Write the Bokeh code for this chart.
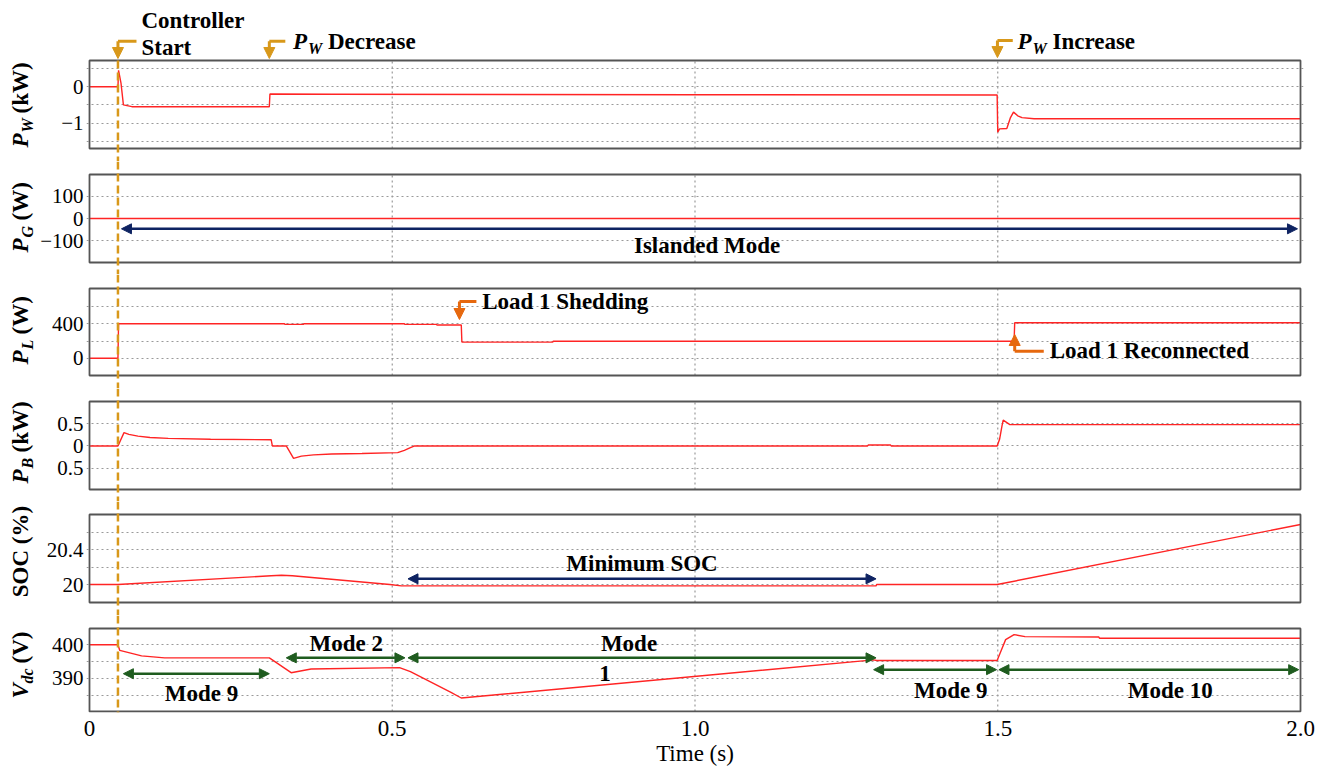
import math
from bokeh.plotting import figure
from bokeh.layouts import column, row
from bokeh.models import Range1d, FixedTicker, Label, Arrow, NormalHead, Span
from bokeh.core.properties import value
from bokeh.embed import file_html
from bokeh.resources import INLINE

# ---------------- data ----------------
t_ctrl = 0.047

t_pw = [0.0, 0.047, 0.048, 0.052, 0.056, 0.070, 0.297, 0.298, 0.40, 1.00, 1.499, 1.500, 1.503, 1.515, 1.521, 1.526, 1.533, 1.540, 1.560, 2.0]
pw = [0.0, 0.0, 0.45, 0.10, -0.50, -0.55, -0.55, -0.20, -0.21, -0.22, -0.23, -1.25, -1.16, -1.15, -0.85, -0.70, -0.80, -0.85, -0.88, -0.88]

t_pg = [0.0, 2.0]
pg = [0.0, 0.0]

t_pl = [0.0, 0.047, 0.048, 0.322, 0.323, 0.353, 0.354, 0.520, 0.521, 0.573, 0.574, 0.614, 0.615, 0.765, 0.766, 1.527, 1.528, 2.0]
pl = [0, 0, 400, 400, 393, 393, 400, 400, 393, 393, 386, 386, 188, 188, 197, 197, 412, 412]

t_pb = [0.0, 0.047, 0.057, 0.065, 0.080, 0.100, 0.130, 0.200, 0.300, 0.302, 0.325, 0.337, 0.350, 0.370, 0.400, 0.450, 0.509, 0.520, 0.530, 0.537, 1.285, 1.286, 1.323, 1.324, 1.499, 1.503, 1.507, 1.509, 1.520, 2.0]
pb = [0.0, 0.0, 0.30, 0.26, 0.22, 0.19, 0.17, 0.15, 0.14, 0.0, 0.0, -0.28, -0.23, -0.20, -0.18, -0.17, -0.15, -0.10, -0.04, 0.0, 0.0, 0.02, 0.02, 0.0, 0.0, 0.15, 0.45, 0.58, 0.48, 0.48]

t_soc = [0.0, 0.047, 0.30, 0.317, 0.335, 0.496, 0.515, 1.299, 1.300, 1.499, 2.0]
soc = [20.0, 20.0, 20.10, 20.107, 20.10, 20.0, 19.985, 19.985, 20.0, 20.0, 20.686]

t_vdc = [0.0, 0.047, 0.050, 0.086, 0.124, 0.297, 0.333, 0.366, 0.512, 0.530, 0.597, 0.614, 1.295, 1.300, 1.499, 1.505, 1.513, 1.527, 1.545, 1.667, 1.668, 2.0]
vdc = [400.0, 400.0, 398.3, 396.7, 396.1, 396.1, 391.7, 392.8, 393.2, 392.0, 385.9, 384.2, 395.5, 395.3, 395.3, 398.0, 401.5, 403.0, 402.4, 402.3, 401.9, 401.9]

x_ticks = [0.0, 0.5, 1.0, 1.5, 2.0]
x_tick_labels = ["0", "0.5", "1.0", "1.5", "2.0"]
x_vgrid = [0.5, 1.0, 1.5]

# ---------------- style / layout ----------------
FONT = "Liberation Serif"
RED = "#FF2424"
GRID = "#9a9a9a"
GOLD = "#D8981A"
ORANGE = "#E6680E"
NAVY = "#0E2362"
GREEN = "#1F5C1F"
BOX = "#555555"
TICK_FS = "21px"

W_TOTAL = 1328
LABEL_W = 37
W = W_TOTAL - LABEL_W
CANVAS_H = 769
X_LEFT_PX, X_RIGHT_PX = 88, 1300
PAD = 3
x_start, x_end = 0.0, 2.0
xscale = (X_RIGHT_PX - X_LEFT_PX) / (x_end - x_start)
xr = Range1d(x_start - PAD / xscale, x_end + PAD / xscale)
FRAME_LEFT = X_LEFT_PX - PAD

frame_top = [0, 161, 274, 388, 501, 615]
frame_bot = [161, 274, 388, 501, 615, 712]
box_top = [60, 174, 288, 401, 514, 628]
box_bot = [148, 262, 375, 489, 602, 711]

lims = [(-1.7, 0.72), (-196.0, 196.0), (-200.0, 810.0), (-0.98, 1.0), (19.795, 20.8), (380.2, 404.8)]
grid_ticks = [[0.5, 0.0, -0.5, -1.0, -1.5], [100, 0, -100], [0, 200, 400, 600],
              [0.5, 0.0, -0.5], [20.0, 20.2, 20.4, 20.6], [385, 390, 395, 400]]
label_ticks = [[0.0, -1.0], [100, 0, -100], [0, 400], [0.5, 0.0, -0.5], [20.0, 20.4], [390, 400]]
label_text = [["0", "\u22121"], ["100", "0", "\u2212100"], ["0", "400"], ["0.5", "0", "0.5"],
              ["20", "20.4"], ["390", "400"]]

series = [(t_pw, pw), (t_pg, pg), (t_pl, pl), (t_pb, pb), (t_soc, soc), (t_vdc, vdc)]

# y-axis titles: (main, subscript, unit, canvas-y where text starts, subscript width)
ytitles = [("P", "W", "(kW)", 147, 14), ("P", "G", "(W)", 252, 12), ("P", "L", "(W)", 364, 10),
           ("P", "B", "(kW)", 483, 11), ("SOC (%)", None, None, 551, 0), ("V", "dc", "(V)", 698, 15)]


def txt(p, x, y, text, size=23, style="bold", align="center", baseline="middle", xo=0, yo=0):
    p.add_layout(Label(x=x, y=y, text=text, text_font=FONT, text_font_style=style,
                       text_font_size=f"{size}px", text_align=align, text_baseline=baseline,
                       x_offset=xo, y_offset=yo, text_color="black"))


def l_arrow(p, x_bar, x_corner, y_bar, y_tip, color):
    p.segment(x0=[x_bar], y0=[y_bar], x1=[x_corner], y1=[y_bar], line_color=color, line_width=3)
    p.add_layout(Arrow(end=NormalHead(size=11, fill_color=color, line_color=color),
                       x_start=x_corner, y_start=y_bar, x_end=x_corner, y_end=y_tip,
                       line_color=color, line_width=3))


def d_arrow(p, x0, x1, y, color):
    p.add_layout(Arrow(start=NormalHead(size=10, fill_color=color, line_color=color),
                       end=NormalHead(size=10, fill_color=color, line_color=color),
                       x_start=x0, y_start=y, x_end=x1, y_end=y, line_color=color, line_width=2.5))


# ---------------- left strip holding the rotated axis titles ----------------
lab = figure(width=LABEL_W, height=CANVAS_H, x_range=Range1d(0, LABEL_W),
             y_range=Range1d(CANVAS_H, 0), output_backend="svg", toolbar_location=None,
             title=None, x_axis_location=None, y_axis_location=None,
             min_border_left=0, min_border_right=0, min_border_top=0, min_border_bottom=0)
lab.outline_line_color = None
lab.xgrid.visible = False
lab.ygrid.visible = False
lab.background_fill_color = "white"
lab.border_fill_color = "white"
MAIN_X, SUB_X = 20, 27
for main, sub, unit, y0, sub_w in ytitles:
    if sub is None:
        lab.text(x=[MAIN_X], y=[y0], text=[main], angle=math.pi / 2, text_align="center",
                 text_baseline="middle", text_font=value(FONT), text_font_style="bold",
                 text_font_size="23px", text_color="black")
    else:
        lab.text(x=[MAIN_X], y=[y0], text=[main], angle=math.pi / 2, text_align="left",
                 text_baseline="middle", text_font=value(FONT), text_font_style="bold italic",
                 text_font_size="23px", text_color="black")
        lab.text(x=[SUB_X], y=[y0 - 15], text=[sub], angle=math.pi / 2, text_align="left",
                 text_baseline="middle", text_font=value(FONT), text_font_style="bold italic",
                 text_font_size="16px", text_color="black")
        lab.text(x=[MAIN_X], y=[y0 - 15 - sub_w - 5], text=[unit], angle=math.pi / 2,
                 text_align="left", text_baseline="middle", text_font=value(FONT),
                 text_font_style="bold", text_font_size="23px", text_color="black")

figs = []
for i in range(6):
    last = i == 5
    vmin, vmax = lims[i]
    s = (box_bot[i] - box_top[i]) / (vmax - vmin)
    y_end = vmax + (box_top[i] - frame_top[i]) / s
    y_start = vmin - (frame_bot[i] - box_bot[i]) / s
    h = frame_bot[i] - frame_top[i] + (CANVAS_H - frame_bot[i] if last else 0)
    p = figure(width=W, height=h, x_range=xr, y_range=Range1d(y_start, y_end),
               output_backend="svg", toolbar_location=None, title=None,
               x_axis_location="below" if last else None,
               min_border_left=FRAME_LEFT - LABEL_W, min_border_right=W_TOTAL - X_RIGHT_PX - PAD,
               min_border_top=0, min_border_bottom=(CANVAS_H - frame_bot[i]) if last else 0)
    p.outline_line_color = None
    p.background_fill_color = "white"
    p.border_fill_color = "white"
    p.xgrid.visible = False
    p.ygrid.ticker = FixedTicker(ticks=grid_ticks[i])
    p.ygrid.grid_line_color = GRID
    p.ygrid.grid_line_dash = "2 3"
    p.ygrid.grid_line_width = 1.2
    ya = p.yaxis[0]
    ya.ticker = FixedTicker(ticks=label_ticks[i])
    ya.major_label_overrides = {k: v for k, v in zip(label_ticks[i], label_text[i])}
    ya.axis_line_color = None
    ya.major_tick_line_color = None
    ya.minor_tick_line_color = None
    ya.major_tick_out = 0
    ya.major_tick_in = 0
    ya.major_label_standoff = 3
    ya.major_label_text_font = FONT
    ya.major_label_text_font_size = TICK_FS
    ya.major_label_text_color = "black"
    if last:
        xa = p.xaxis[0]
        xa.ticker = FixedTicker(ticks=x_ticks)
        xa.major_label_overrides = {k: v for k, v in zip(x_ticks, x_tick_labels)}
        xa.axis_line_color = None
        xa.major_tick_line_color = None
        xa.minor_tick_line_color = None
        xa.major_tick_out = 0
        xa.major_tick_in = 0
        xa.major_label_standoff = 8
        xa.major_label_text_font = FONT
        xa.major_label_text_font_size = "23px"
        xa.major_label_text_color = "black"
        xa.axis_label = "Time (s)"
        xa.axis_label_text_font = FONT
        xa.axis_label_text_font_size = "23px"
        xa.axis_label_text_font_style = "normal"
        xa.axis_label_text_color = "black"
        xa.axis_label_standoff = 2
    # vertical grid lines limited to the panel box
    p.segment(x0=x_vgrid, y0=[vmin] * len(x_vgrid), x1=x_vgrid, y1=[vmax] * len(x_vgrid),
              line_color=GRID, line_dash="2 3", line_width=1.2)
    # data
    tx, ty = series[i]
    p.line(tx, ty, line_color=RED, line_width=1.4)
    # panel box
    p.quad(left=[x_start], right=[x_end], bottom=[vmin], top=[vmax],
           fill_color=None, line_color=BOX, line_width=1.8)
    # controller start dashed line
    if i == 0:
        p.segment(x0=[t_ctrl], y0=[vmax], x1=[t_ctrl], y1=[y_start],
                  line_color=GOLD, line_dash="8 4", line_width=2.5)
    else:
        p.add_layout(Span(location=t_ctrl, dimension="height", line_color=GOLD,
                          line_dash="8 4", line_width=2.5))
    figs.append(p)

p1, p2, p3, p4, p5, p6 = figs

# ---- panel 1 annotations ----
l_arrow(p1, 0.0776, t_ctrl, 1.251, 0.775, GOLD)
txt(p1, 0.0858, 1.828, "Controller", align="left")
txt(p1, 0.0858, 1.091, "Start", align="left")

l_arrow(p1, 0.3234, 0.297, 1.251, 0.775, GOLD)
txt(p1, 0.3361, 1.243, "P", style="bold italic", align="left")
txt(p1, 0.3361, 1.243, "W", size=16, style="bold italic", align="left", xo=15, yo=-7)
txt(p1, 0.3361, 1.243, "Decrease", align="left", xo=35)

l_arrow(p1, 1.5248, 1.4995, 1.27, 0.80, GOLD)
txt(p1, 1.5325, 1.256, "P", style="bold italic", align="left")
txt(p1, 1.5325, 1.256, "W", size=16, style="bold italic", align="left", xo=15, yo=-7)
txt(p1, 1.5325, 1.256, "Increase", align="left", xo=35)

# ---- panel 2 ----
d_arrow(p2, 0.0528, 1.995, -46, NAVY)
txt(p2, 1.02, -120, "Islanded Mode")

# ---- panel 3 ----
l_arrow(p3, 0.639, 0.611, 660, 450, ORANGE)
txt(p3, 0.6485, 654, "Load 1 Shedding", align="left")
l_arrow(p3, 1.576, 1.528, 82, 276, ORANGE)
txt(p3, 1.5858, 91, "Load 1 Reconnected", align="left")

# ---- panel 5 ----
d_arrow(p5, 0.526, 1.299, 20.065, NAVY)
txt(p5, 0.9125, 20.24, "Minimum SOC")

# ---- panel 6 ----
d_arrow(p6, 0.056, 0.297, 391.4, GREEN)
txt(p6, 0.185, 385.5, "Mode 9")
d_arrow(p6, 0.325, 0.521, 396.1, GREEN)
txt(p6, 0.424, 400.35, "Mode 2")
d_arrow(p6, 0.526, 1.299, 396.1, GREEN)
txt(p6, 0.891, 400.35, "Mode")
txt(p6, 0.8515, 391.5, "1")
d_arrow(p6, 1.295, 1.498, 392.6, GREEN)
txt(p6, 1.4224, 386.3, "Mode 9")
d_arrow(p6, 1.502, 1.997, 392.6, GREEN)
txt(p6, 1.785, 386.3, "Mode 10")

layout = row(lab, column(*figs, spacing=0), spacing=0)
open("out.html", "w").write(file_html(layout, INLINE))
